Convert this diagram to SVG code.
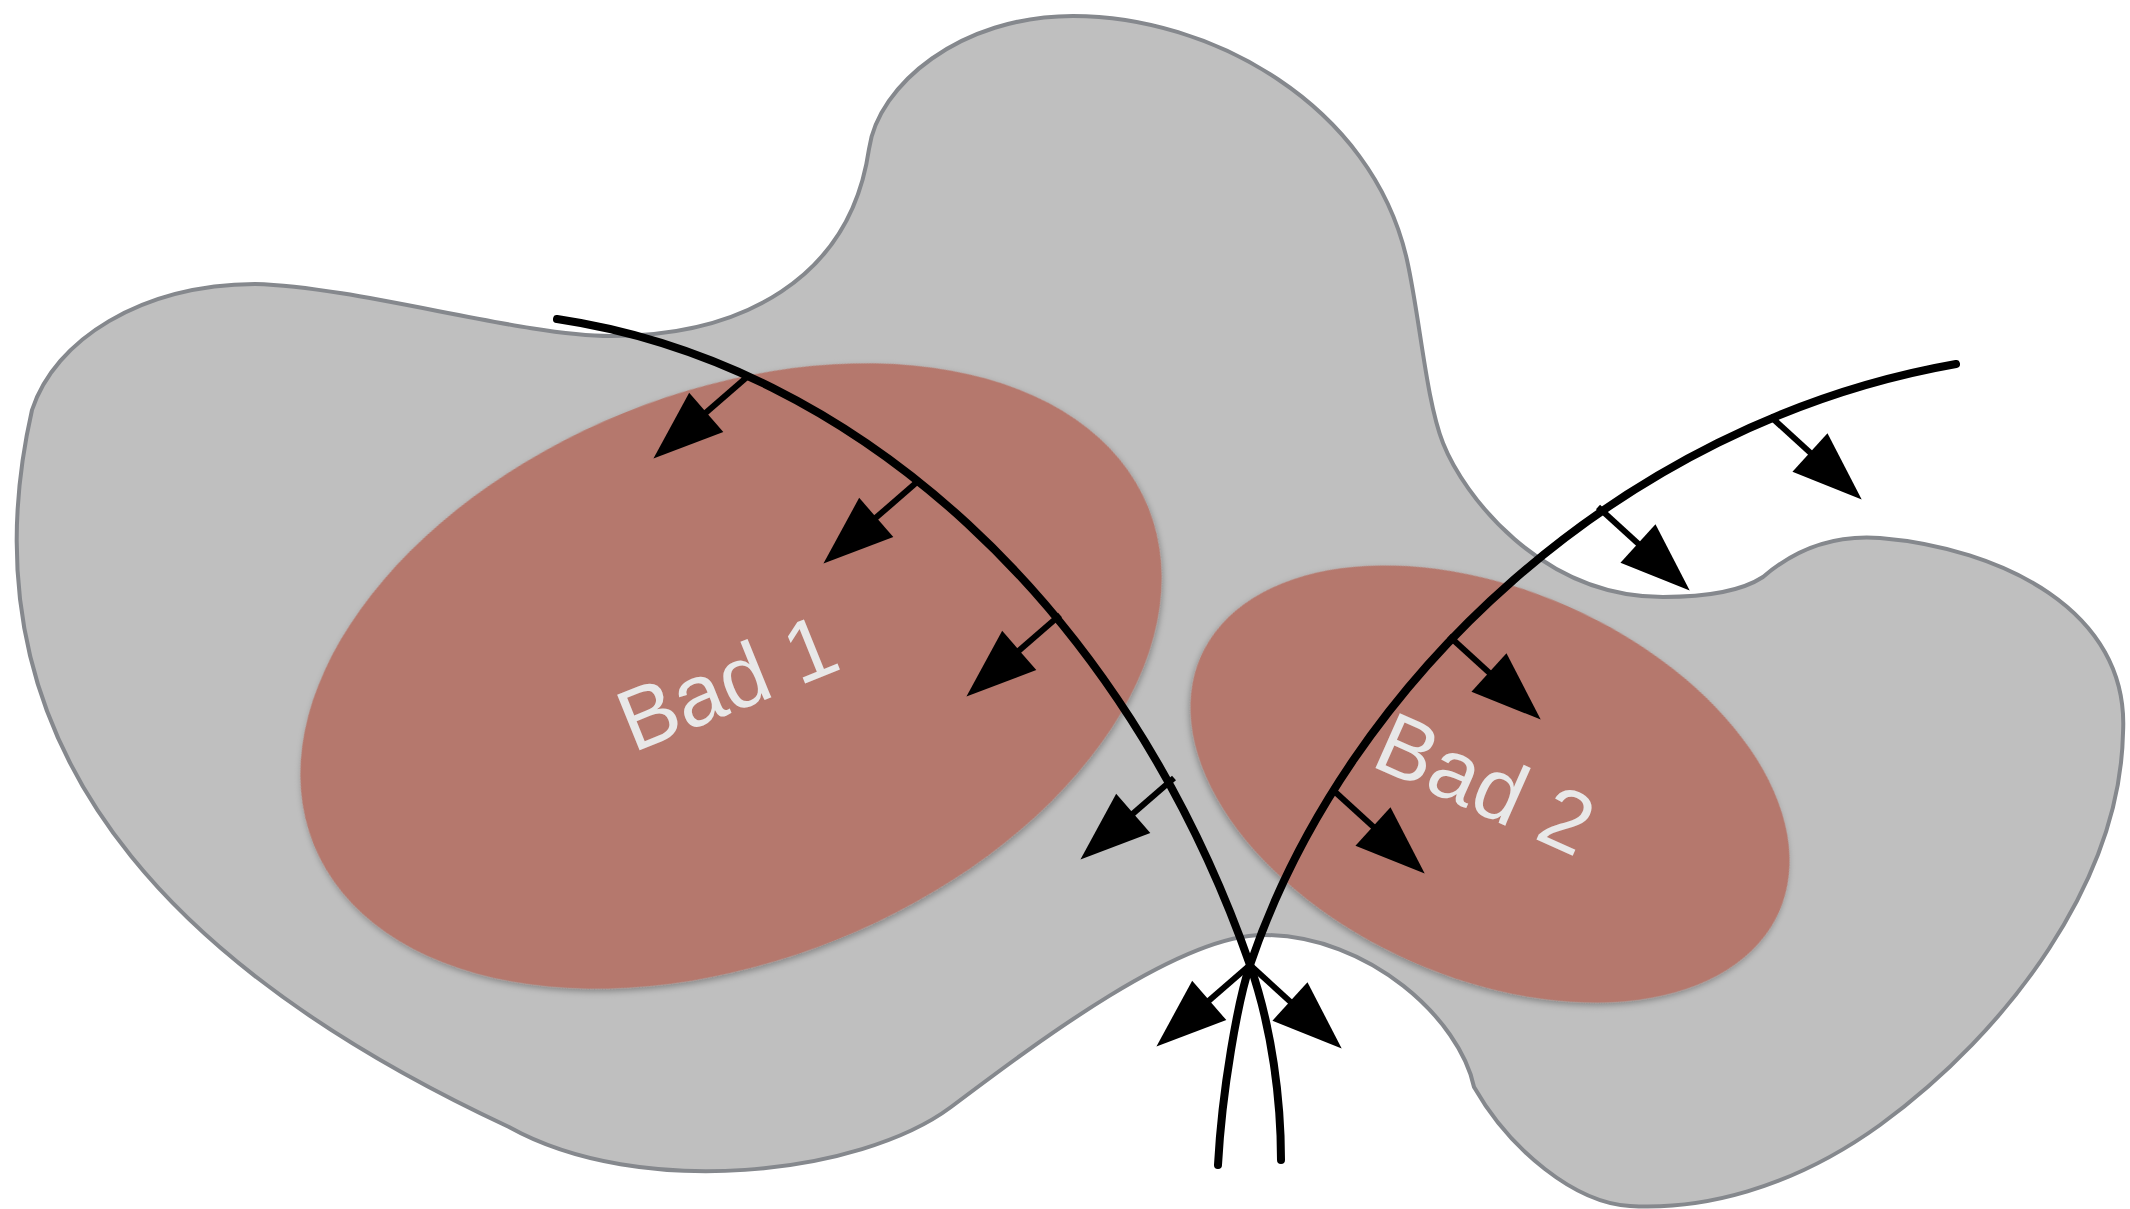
<svg xmlns="http://www.w3.org/2000/svg" width="2130" height="1209" viewBox="0 0 2130 1209">
<style>
.region{fill:#bfbfbf;stroke:#85888d;stroke-width:4;stroke-linejoin:round}
.bad{fill:#b5786d;filter:url(#shadow)}
.label{font-family:"Liberation Sans","Helvetica Neue",Arial,sans-serif;font-size:87px;fill:#e8e8e8}
.curve{fill:none;stroke:#000;stroke-width:8;stroke-linecap:round}
.normal{fill:none;stroke:#000;stroke-width:6;marker-end:url(#head)}
</style>
<defs>
<filter id="shadow" x="-10%" y="-10%" width="120%" height="125%">
<feDropShadow dx="0" dy="3" stdDeviation="3" flood-color="#000" flood-opacity="0.3"/>
</filter>
<marker id="head" markerUnits="userSpaceOnUse" viewBox="0 -30 72 60" markerWidth="72" markerHeight="60" refX="1" refY="0" orient="auto" overflow="visible">
<path d="M0,-26 L70,0 L0,26 Z" fill="#000"/>
</marker>
</defs>
<g id="region">
<path class="region" d="M32,410 C55,340 140,285 255,284 C360,287 520,336 611,336 C740,336 850,280 869,149 C878,85 960,16 1073,16 C1210,16 1372,104 1407,260 C1420,318.5 1426,400 1443,443 C1463,494 1540,597 1663,597 C1700,597 1740,592 1763,577 C1800,545 1840,535 1880,538 C2000,548 2130,610 2123,733 C2120,880 2010,1030 1880,1125 C1790,1190 1700,1210 1630,1206 C1575,1203 1510,1150 1474,1087 C1460,1020 1370,935 1263,935 C1180,935 1040,1040 951,1107 C860,1175 640,1200 509,1127 C221,992.6 -51.6,778.6 32,410 Z"/>
</g>
<g id="bad1">
<ellipse class="bad" cx="731" cy="676" rx="450" ry="284" transform="rotate(-22 731 676)"/>
<text class="label" x="633" y="753" transform="rotate(-22 633 753)">Bad 1</text>
</g>
<g id="bad2">
<ellipse class="bad" cx="1490" cy="784" rx="316" ry="194" transform="rotate(23.8 1490 784)"/>
<text class="label" x="1369" y="765" transform="rotate(24 1369 765)">Bad 2</text>
</g>
<g id="connectors">
<path class="curve" d="M557,319 C854,363 1124.6,606.3 1250,965 C1272,1028 1281,1100 1281,1160"/>
<path class="curve" d="M1956,364 C1621,423 1346,681 1250,965 C1238,1000 1222,1090 1218,1165"/>
<line class="normal" x1="747" y1="377" x2="705.5" y2="413.1"/>
<line class="normal" x1="917" y1="482" x2="875.5" y2="518.1"/>
<line class="normal" x1="1060" y1="615" x2="1018.5" y2="651.1"/>
<line class="normal" x1="1174" y1="778" x2="1132.5" y2="814.1"/>
<line class="normal" x1="1250" y1="965" x2="1208.5" y2="1001.1"/>
<line class="normal" x1="1770" y1="416" x2="1810.7" y2="453.1"/>
<line class="normal" x1="1598" y1="507" x2="1638.7" y2="544.1"/>
<line class="normal" x1="1449" y1="636" x2="1489.7" y2="673.1"/>
<line class="normal" x1="1333" y1="790" x2="1373.7" y2="827.1"/>
<line class="normal" x1="1250" y1="965" x2="1290.7" y2="1002.1"/>
</g>
</svg>
